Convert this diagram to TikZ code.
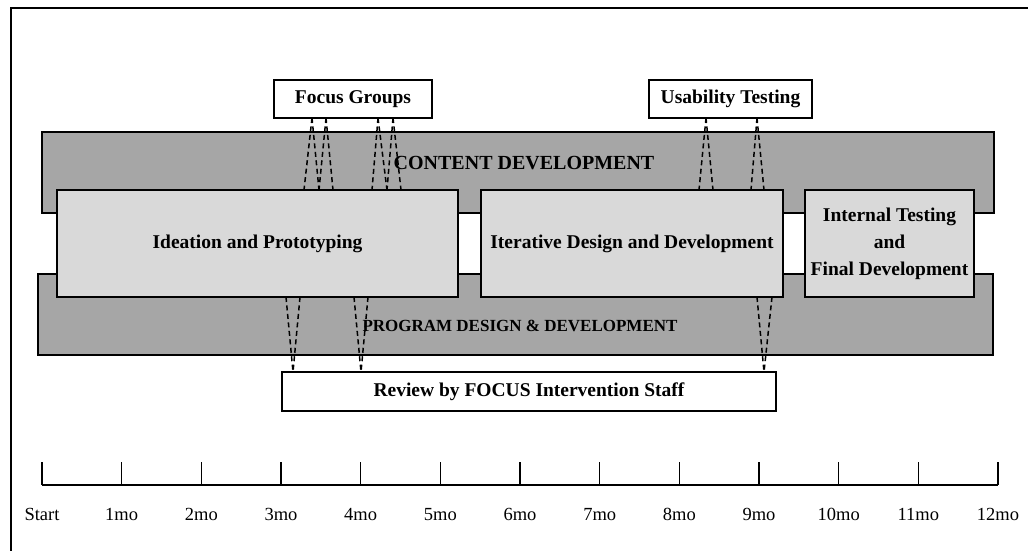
\documentclass[tikz,border=0pt]{standalone}
\usepackage{fontspec}
\setmainfont{Liberation Serif}
\definecolor{dkgray}{HTML}{A6A6A6}
\definecolor{ltgray}{HTML}{D9D9D9}
\begin{document}
\begin{tikzpicture}[x=1pt,y=-1pt,
  darkbox/.style={draw=black, line width=1.3pt, fill=dkgray, anchor=north west, inner sep=0pt, outer sep=0pt},
  lightbox/.style={draw=black, line width=1.3pt, fill=ltgray, anchor=north west, inner sep=0pt, outer sep=0pt},
  whitebox/.style={draw=black, line width=1.3pt, fill=white, anchor=north west, inner sep=0pt, outer sep=0pt},
  lbl/.style={font=\fontsize{19.5}{27}\selectfont\bfseries, align=center, inner sep=0pt},
  ticklbl/.style={font=\fontsize{18.5}{22}\selectfont, inner sep=0pt, anchor=base},
  dashline/.style={draw=black, line width=1.5pt, dash pattern=on 5pt off 3.5pt},
  axis/.style={draw=black, line width=1.3pt}
]
\clip (0,0) rectangle (1028,551);
\fill[white] (0,0) rectangle (1028,551);
% outer frame
\draw[line width=1.5pt] (11,600) -- (11,8) -- (1100,8);

% dark bands
\node[darkbox, minimum width=952pt, minimum height=81pt] (content) at (42,132) {};
\node[darkbox, minimum width=955pt, minimum height=81pt] (program) at (38,274) {};
\node[lbl, font=\fontsize{20}{24}\selectfont\bfseries] (contentlbl) at (524,163) {CONTENT DEVELOPMENT};
\node[lbl, font=\fontsize{17}{20}\selectfont\bfseries] (programlbl) at (520,326) {PROGRAM DESIGN \& DEVELOPMENT};

% phase boxes
\node[lightbox, minimum width=401pt, minimum height=107pt] (ideation) at (57,190) {};
\node[lightbox, minimum width=302pt, minimum height=107pt] (iterative) at (481,190) {};
\node[lightbox, minimum width=169pt, minimum height=107pt] (internal) at (805,190) {};
\node[lbl] at (ideation.center) {Ideation and Prototyping};
\node[lbl] at (iterative.center) {Iterative Design and Development};
\node[lbl] at (internal.center) {Internal Testing\\and\\Final Development};

% activity boxes
\node[whitebox, minimum width=158pt, minimum height=38pt] (focus) at (274,80) {};
\node[lbl] at (focus.center) {Focus Groups};
\node[whitebox, minimum width=163pt, minimum height=38pt] (usab) at (649,80) {};
\node[lbl] at (usab.center) {Usability Testing};
\node[whitebox, minimum width=494pt, minimum height=39pt] (review) at (282,372) {};
\node[lbl] at (review.center) {Review by FOCUS Intervention Staff};

% focus groups -> ideation
\draw[dashline] ([xshift=38pt]focus.south west) -- ([xshift=247pt]ideation.north west);
\draw[dashline] ([xshift=38pt]focus.south west) -- ([xshift=262pt]ideation.north west);
\draw[dashline] ([xshift=52pt]focus.south west) -- ([xshift=262pt]ideation.north west);
\draw[dashline] ([xshift=52pt]focus.south west) -- ([xshift=276pt]ideation.north west);
\draw[dashline] ([xshift=104pt]focus.south west) -- ([xshift=315pt]ideation.north west);
\draw[dashline] ([xshift=104pt]focus.south west) -- ([xshift=330pt]ideation.north west);
\draw[dashline] ([xshift=119pt]focus.south west) -- ([xshift=330pt]ideation.north west);
\draw[dashline] ([xshift=119pt]focus.south west) -- ([xshift=344pt]ideation.north west);

% usability -> iterative
\draw[dashline] ([xshift=57pt]usab.south west) -- ([xshift=218pt]iterative.north west);
\draw[dashline] ([xshift=57pt]usab.south west) -- ([xshift=232pt]iterative.north west);
\draw[dashline] ([xshift=108pt]usab.south west) -- ([xshift=270pt]iterative.north west);
\draw[dashline] ([xshift=108pt]usab.south west) -- ([xshift=283pt]iterative.north west);

% phases -> review
\draw[dashline] ([xshift=229pt]ideation.south west) -- ([xshift=11pt]review.north west);
\draw[dashline] ([xshift=243pt]ideation.south west) -- ([xshift=11pt]review.north west);
\draw[dashline] ([xshift=297pt]ideation.south west) -- ([xshift=79pt]review.north west);
\draw[dashline] ([xshift=311pt]ideation.south west) -- ([xshift=79pt]review.north west);
\draw[dashline] ([xshift=276pt]iterative.south west) -- ([xshift=482pt]review.north west);
\draw[dashline] ([xshift=291pt]iterative.south west) -- ([xshift=482pt]review.north west);

% timeline
\draw[axis] (42,485) -- (998,485);
\foreach \i/\t in {0/Start,1/1mo,2/2mo,3/3mo,4/4mo,5/5mo,6/6mo,7/7mo,8/8mo,9/9mo,10/10mo,11/11mo,12/12mo}{
  \draw[axis] ({42+79.67*\i},462) -- ({42+79.67*\i},485);
  \node[ticklbl] (t\i) at ({42+79.67*\i},520) {\t};
}
\end{tikzpicture}
\end{document}
